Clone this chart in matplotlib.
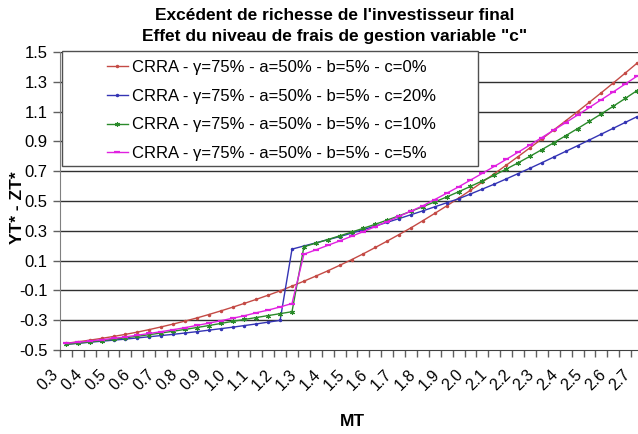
import matplotlib
matplotlib.use("Agg")
import matplotlib.pyplot as plt
from matplotlib.patches import Rectangle
from matplotlib.ticker import FixedLocator, NullFormatter
from matplotlib.transforms import ScaledTranslation

plt.rcParams['font.family'] = ['Liberation Sans', 'DejaVu Sans']

# MT categories (step 0.05), labelled every second one
mt = [0.30, 0.35, 0.40, 0.45, 0.50, 0.55, 0.60, 0.65, 0.70, 0.75,
      0.80, 0.85, 0.90, 0.95, 1.00, 1.05, 1.10, 1.15, 1.20, 1.25,
      1.30, 1.35, 1.40, 1.45, 1.50, 1.55, 1.60, 1.65, 1.70, 1.75,
      1.80, 1.85, 1.90, 1.95, 2.00, 2.05, 2.10, 2.15, 2.20, 2.25,
      2.30, 2.35, 2.40, 2.45, 2.50, 2.55, 2.60, 2.65, 2.70]

c_0 = [-0.455, -0.445, -0.434, -0.422, -0.409, -0.395, -0.380, -0.363, -0.345, -0.326,
       -0.306, -0.285, -0.262, -0.238, -0.213, -0.187, -0.160, -0.132, -0.103, -0.071,
       -0.038, -0.004, 0.031, 0.068, 0.106, 0.146, 0.188, 0.231, 0.275, 0.320,
       0.368, 0.417, 0.467, 0.519, 0.572, 0.627, 0.683, 0.740, 0.798, 0.857,
       0.917, 0.977, 1.038, 1.100, 1.163, 1.227, 1.292, 1.358, 1.425]

c_20 = [-0.462, -0.455, -0.448, -0.441, -0.434, -0.427, -0.419, -0.411, -0.403, -0.395,
        -0.386, -0.377, -0.367, -0.357, -0.347, -0.336, -0.325, -0.313, -0.301, 0.177,
        0.198, 0.219, 0.240, 0.261, 0.284, 0.308, 0.332, 0.357, 0.382, 0.408,
        0.434, 0.461, 0.488, 0.515, 0.547, 0.580, 0.613, 0.648, 0.684, 0.720,
        0.757, 0.795, 0.833, 0.871, 0.910, 0.949, 0.988, 1.027, 1.066]

c_10 = [-0.462, -0.454, -0.446, -0.437, -0.428, -0.418, -0.408, -0.397, -0.386, -0.374,
        -0.362, -0.349, -0.336, -0.322, -0.308, -0.295, -0.282, -0.269, -0.256, -0.243,
        0.193, 0.217, 0.241, 0.266, 0.291, 0.317, 0.344, 0.372, 0.401, 0.431,
        0.462, 0.494, 0.527, 0.562, 0.598, 0.635, 0.673, 0.714, 0.756, 0.800,
        0.845, 0.891, 0.938, 0.986, 1.035, 1.085, 1.136, 1.188, 1.241]

c_5 = [-0.455, -0.448, -0.440, -0.431, -0.422, -0.412, -0.401, -0.389, -0.377, -0.364,
       -0.350, -0.335, -0.320, -0.304, -0.287, -0.270, -0.250, -0.232, -0.211, -0.188,
       0.143, 0.172, 0.202, 0.232, 0.263, 0.295, 0.328, 0.362, 0.397, 0.432,
       0.468, 0.510, 0.552, 0.595, 0.640, 0.686, 0.732, 0.779, 0.827, 0.876,
       0.926, 0.976, 1.026, 1.077, 1.128, 1.180, 1.232, 1.285, 1.338]

labels = ["CRRA - γ=75% - a=50% - b=5% - c=0%",
          "CRRA - γ=75% - a=50% - b=5% - c=20%",
          "CRRA - γ=75% - a=50% - b=5% - c=10%",
          "CRRA - γ=75% - a=50% - b=5% - c=5%"]

y_ticks = [-0.5, -0.3, -0.1, 0.1, 0.3, 0.5, 0.7, 0.9, 1.1, 1.3, 1.5]

W, H = 638, 434
fig = plt.figure(figsize=(W / 100, H / 100), dpi=100)
# plot area runs a little past the right edge of the image
ax = fig.add_axes([60 / W, 1 - 350 / H, 583 / W, 298 / H])

x = list(range(len(mt)))
ax.plot(x, c_0, color='#C44A45', lw=1, marker='.', ms=3, label=labels[0])
ax.plot(x, c_20, color='#3434B4', lw=1, marker='.', ms=3, label=labels[1])
ax.plot(x, c_10, color='#2A8A2A', lw=1, marker=(6, 2, 0), ms=3.5, mew=0.8,
        label=labels[2])
ax.plot(x, c_5, color='#E020E0', lw=1, marker='_', ms=4, mew=1.6, label=labels[3])

ax.set_xlim(-0.5, len(mt) - 0.5)
ax.set_ylim(-0.5, 1.5)

# horizontal grid
for v in y_ticks[1:]:
    ax.axhline(v, color='#303030', lw=1, zorder=0)

ax.set_yticks(y_ticks)
ax.set_yticklabels(["%.1f" % v for v in y_ticks], fontsize=12)
ax.tick_params(axis='y', length=5, width=1, color='#606060', pad=4)

major = [i for i in x if i % 2 == 0]
ax.set_xticks(major)
ax.set_xticklabels(["%.1f" % mt[i] for i in major], rotation=45, ha='right',
                   va='top', rotation_mode='anchor', fontsize=11.5)
ax.tick_params(axis='x', which='major', length=0, pad=12)
# rotated labels sit slightly left of their category
shift = ScaledTranslation(-15 / 100, 0, fig.dpi_scale_trans)
for t in ax.get_xticklabels():
    t.set_transform(t.get_transform() + shift)
ax.xaxis.set_minor_locator(FixedLocator([i - 0.5 for i in range(len(mt) + 1)]))
ax.xaxis.set_minor_formatter(NullFormatter())
ax.tick_params(axis='x', which='minor', length=5, width=1, color='#606060')

for side in ['top', 'right']:
    ax.spines[side].set_visible(False)
ax.spines['left'].set_color('#808080')
ax.spines['bottom'].set_color('#404040')

fig.text(335 / W, 1 - 15 / H, "Excédent de richesse de l'investisseur final",
         ha='center', va='center', fontsize=12.5, fontweight='bold')
fig.text(335 / W, 1 - 36 / H, 'Effet du niveau de frais de gestion variable "c"',
         ha='center', va='center', fontsize=12.5, fontweight='bold')
fig.text(18 / W, 1 - 208 / H, "YT* - ZT*", rotation=90, ha='center', va='center',
         fontsize=12.5, fontweight='bold')
fig.text(352 / W, 1 - 421 / H, "MT", ha='center', va='center',
         fontsize=12.5, fontweight='bold')

# legend box drawn on its own, entries placed inside it
box = Rectangle((62 / W, 1 - 166 / H), 416 / W, 115 / H, transform=fig.transFigure,
                facecolor='white', edgecolor='#505050', lw=1, zorder=4, clip_on=False)
ax.add_patch(box)
leg = ax.legend(loc='upper left', bbox_to_anchor=(107 / W, 1 - 60 / H),
                bbox_transform=fig.transFigure, fontsize=12, frameon=False,
                handlelength=1.25, handletextpad=0.25, labelspacing=0.82,
                borderpad=0, borderaxespad=0)
leg.set_zorder(5)

fig.savefig("out.png", dpi=100)
